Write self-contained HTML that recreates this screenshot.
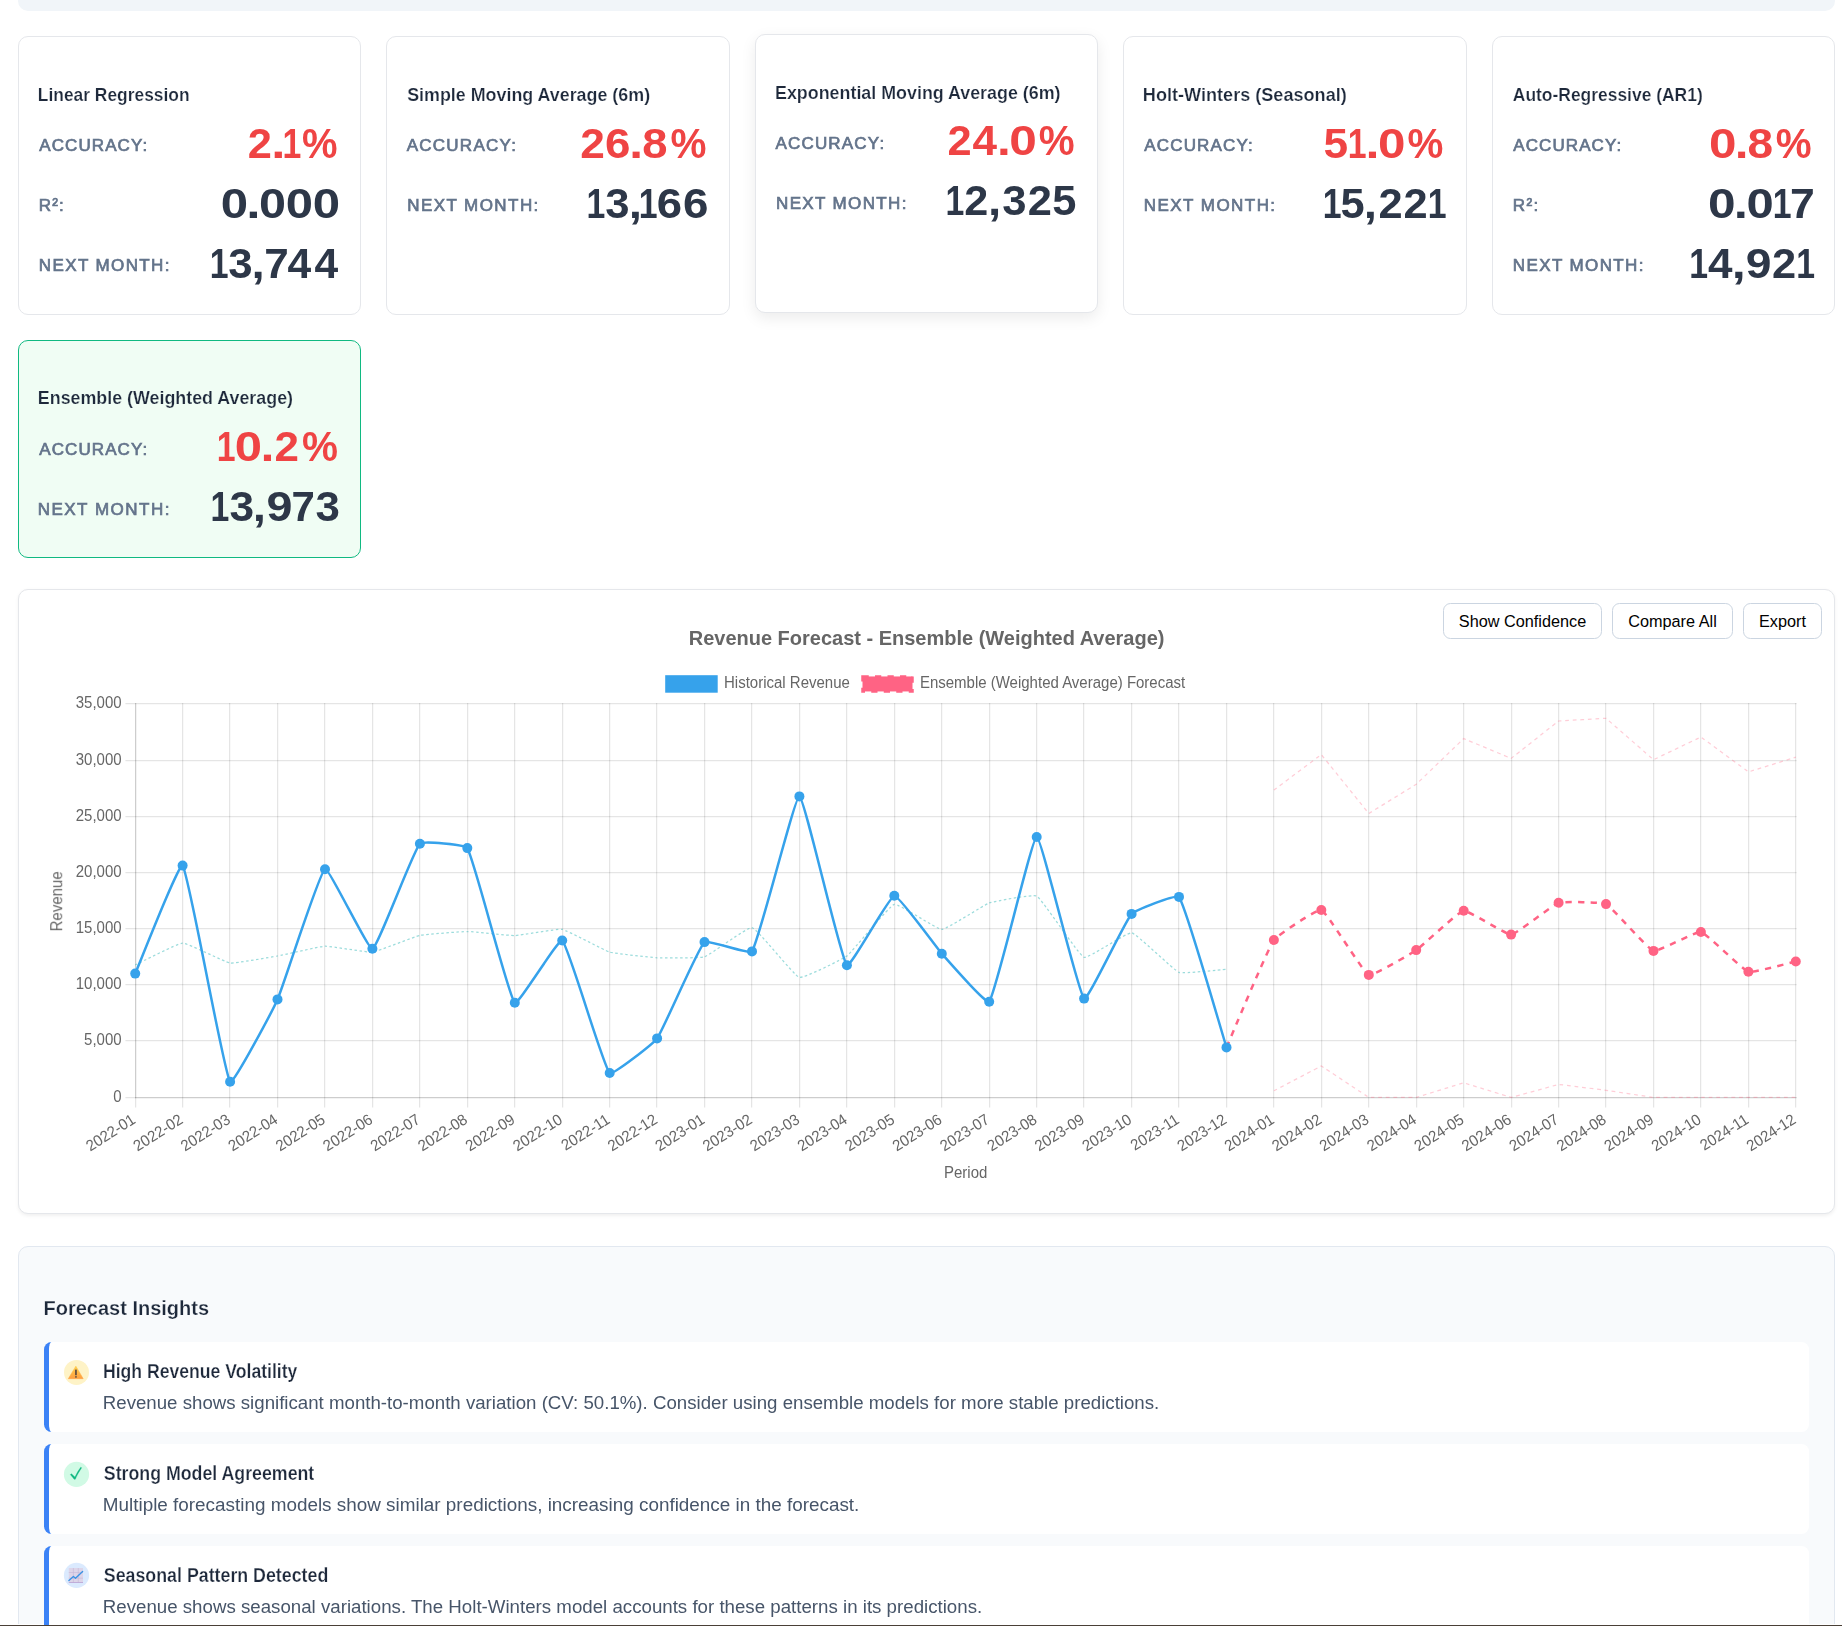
<!DOCTYPE html><html lang="en"><head><meta charset="utf-8"><title>Revenue Forecast</title>
<style>
*{box-sizing:border-box}
html,body{margin:0;padding:0;background:#fff;width:1842px;height:1626px;overflow:hidden}
.page{width:1842px;height:1626px;overflow:hidden;position:relative;background:#fff;font-family:"Liberation Sans",sans-serif}
.abs{position:absolute}
.strip{left:18.2px;top:-20px;width:1816.6px;height:31px;background:#f1f5f9;border-radius:10px}
.card{position:absolute;background:#fff;border:1.25px solid #e5e7eb;border-radius:10px}
.card.hover{box-shadow:0 5px 15px rgba(0,0,0,.08)}
.card.sel{background:#f0fdf4;border-color:#10b981}
.panel{position:absolute;left:18px;width:1817px;border:1.25px solid #e5e7eb;border-radius:10px;background:#fff}
.panel.chart{box-shadow:0 1.25px 3.75px rgba(0,0,0,.06)}
.panel.insights{background:#f8fafc;border-color:#e2e8f0}
.btn{position:absolute;top:603px;height:36px;border:1.25px solid #cbd5e1;border-radius:7.5px;background:#fff;font:16.25px/31px "Liberation Sans",sans-serif;color:#000;text-align:center;padding:0}
.ins{position:absolute;left:44.2px;width:1764.8px;height:89.6px;background:#fff;border-left:5px solid #3b82f6;border-radius:7.5px}
svg.ov{position:absolute;left:0;top:0;pointer-events:none;font-family:"Liberation Sans",sans-serif}
.edge1{left:0;top:1624px;width:1842px;height:1px;background:#fff}
.edge2{left:0;top:1625px;width:1842px;height:1px;background:#4a4037}
</style></head><body><main class="page">
<div class="abs strip"></div>
<div class="card " style="left:18px;top:36px;width:343px;height:279px"></div>
<div class="card " style="left:386px;top:36px;width:344px;height:279px"></div>
<div class="card hover" style="left:755px;top:34px;width:343px;height:279px"></div>
<div class="card " style="left:1123px;top:36px;width:344px;height:279px"></div>
<div class="card " style="left:1492px;top:36px;width:343px;height:279px"></div>
<div class="card sel" style="left:18px;top:340px;width:343px;height:218px"></div>
<div class="panel chart" style="top:589px;height:625px"></div>
<button class="btn" style="left:1443px;width:159px">Show Confidence</button>
<button class="btn" style="left:1612px;width:121px">Compare All</button>
<button class="btn" style="left:1743px;width:79px">Export</button>
<div class="panel insights" style="top:1246px;height:420px"></div>
<div class="abs edge1"></div>
<div class="ins" style="top:1342.0px"></div>
<div class="ins" style="top:1444.0px"></div>
<div class="ins" style="top:1546.0px"></div>
<svg class="ov" width="1842" height="1626" viewBox="0 0 1842 1626">
<g stroke="#000" stroke-opacity="0.1" stroke-width="1.25">
<line x1="135.625" y1="703" x2="135.625" y2="1107.5"/>
<line x1="182.625" y1="703" x2="182.625" y2="1107.5"/>
<line x1="229.625" y1="703" x2="229.625" y2="1107.5"/>
<line x1="277.625" y1="703" x2="277.625" y2="1107.5"/>
<line x1="324.625" y1="703" x2="324.625" y2="1107.5"/>
<line x1="372.625" y1="703" x2="372.625" y2="1107.5"/>
<line x1="419.625" y1="703" x2="419.625" y2="1107.5"/>
<line x1="467.625" y1="703" x2="467.625" y2="1107.5"/>
<line x1="514.625" y1="703" x2="514.625" y2="1107.5"/>
<line x1="562.625" y1="703" x2="562.625" y2="1107.5"/>
<line x1="609.625" y1="703" x2="609.625" y2="1107.5"/>
<line x1="656.625" y1="703" x2="656.625" y2="1107.5"/>
<line x1="704.625" y1="703" x2="704.625" y2="1107.5"/>
<line x1="751.625" y1="703" x2="751.625" y2="1107.5"/>
<line x1="799.625" y1="703" x2="799.625" y2="1107.5"/>
<line x1="846.625" y1="703" x2="846.625" y2="1107.5"/>
<line x1="894.625" y1="703" x2="894.625" y2="1107.5"/>
<line x1="941.625" y1="703" x2="941.625" y2="1107.5"/>
<line x1="989.625" y1="703" x2="989.625" y2="1107.5"/>
<line x1="1036.625" y1="703" x2="1036.625" y2="1107.5"/>
<line x1="1083.625" y1="703" x2="1083.625" y2="1107.5"/>
<line x1="1131.625" y1="703" x2="1131.625" y2="1107.5"/>
<line x1="1178.625" y1="703" x2="1178.625" y2="1107.5"/>
<line x1="1226.625" y1="703" x2="1226.625" y2="1107.5"/>
<line x1="1273.625" y1="703" x2="1273.625" y2="1107.5"/>
<line x1="1321.625" y1="703" x2="1321.625" y2="1107.5"/>
<line x1="1368.625" y1="703" x2="1368.625" y2="1107.5"/>
<line x1="1416.625" y1="703" x2="1416.625" y2="1107.5"/>
<line x1="1463.625" y1="703" x2="1463.625" y2="1107.5"/>
<line x1="1511.625" y1="703" x2="1511.625" y2="1107.5"/>
<line x1="1558.625" y1="703" x2="1558.625" y2="1107.5"/>
<line x1="1605.625" y1="703" x2="1605.625" y2="1107.5"/>
<line x1="1653.625" y1="703" x2="1653.625" y2="1107.5"/>
<line x1="1700.625" y1="703" x2="1700.625" y2="1107.5"/>
<line x1="1748.625" y1="703" x2="1748.625" y2="1107.5"/>
<line x1="1795.625" y1="703" x2="1795.625" y2="1107.5"/>
<line x1="125.4" y1="1097.625" x2="1796.6" y2="1097.625"/>
<line x1="125.4" y1="1040.625" x2="1796.6" y2="1040.625"/>
<line x1="125.4" y1="984.625" x2="1796.6" y2="984.625"/>
<line x1="125.4" y1="928.625" x2="1796.6" y2="928.625"/>
<line x1="125.4" y1="872.625" x2="1796.6" y2="872.625"/>
<line x1="125.4" y1="816.625" x2="1796.6" y2="816.625"/>
<line x1="125.4" y1="760.625" x2="1796.6" y2="760.625"/>
<line x1="125.4" y1="703.625" x2="1796.6" y2="703.625"/>
<line x1="135.625" y1="703" x2="135.625" y2="1098.2"/><line x1="135" y1="1097.625" x2="1796.6" y2="1097.625"/>
</g>
<g opacity="0.999">
<text transform="translate(121.60 1101.70) scale(0.9615 1)" x="0.00" y="0.00" font-size="15.60" font-weight="400" fill="#666" text-anchor="end">0</text>
<text transform="translate(121.60 1044.70) scale(0.9615 1)" x="0.00" y="0.00" font-size="15.60" font-weight="400" fill="#666" text-anchor="end">5,000</text>
<text transform="translate(121.60 988.70) scale(0.9615 1)" x="0.00" y="0.00" font-size="15.60" font-weight="400" fill="#666" text-anchor="end">10,000</text>
<text transform="translate(121.60 932.70) scale(0.9615 1)" x="0.00" y="0.00" font-size="15.60" font-weight="400" fill="#666" text-anchor="end">15,000</text>
<text transform="translate(121.60 876.70) scale(0.9615 1)" x="0.00" y="0.00" font-size="15.60" font-weight="400" fill="#666" text-anchor="end">20,000</text>
<text transform="translate(121.60 820.70) scale(0.9615 1)" x="0.00" y="0.00" font-size="15.60" font-weight="400" fill="#666" text-anchor="end">25,000</text>
<text transform="translate(121.60 764.70) scale(0.9615 1)" x="0.00" y="0.00" font-size="15.60" font-weight="400" fill="#666" text-anchor="end">30,000</text>
<text transform="translate(121.60 707.70) scale(0.9615 1)" x="0.00" y="0.00" font-size="15.60" font-weight="400" fill="#666" text-anchor="end">35,000</text>
<text transform="translate(128.80 1110.00) rotate(-32.5) scale(0.9615 1)" x="0.00" y="14.40" font-size="15.60" font-weight="400" fill="#666" text-anchor="end">2022-01</text>
<text transform="translate(176.25 1110.00) rotate(-32.5) scale(0.9615 1)" x="0.00" y="14.40" font-size="15.60" font-weight="400" fill="#666" text-anchor="end">2022-02</text>
<text transform="translate(223.69 1110.00) rotate(-32.5) scale(0.9615 1)" x="0.00" y="14.40" font-size="15.60" font-weight="400" fill="#666" text-anchor="end">2022-03</text>
<text transform="translate(271.14 1110.00) rotate(-32.5) scale(0.9615 1)" x="0.00" y="14.40" font-size="15.60" font-weight="400" fill="#666" text-anchor="end">2022-04</text>
<text transform="translate(318.58 1110.00) rotate(-32.5) scale(0.9615 1)" x="0.00" y="14.40" font-size="15.60" font-weight="400" fill="#666" text-anchor="end">2022-05</text>
<text transform="translate(366.03 1110.00) rotate(-32.5) scale(0.9615 1)" x="0.00" y="14.40" font-size="15.60" font-weight="400" fill="#666" text-anchor="end">2022-06</text>
<text transform="translate(413.47 1110.00) rotate(-32.5) scale(0.9615 1)" x="0.00" y="14.40" font-size="15.60" font-weight="400" fill="#666" text-anchor="end">2022-07</text>
<text transform="translate(460.92 1110.00) rotate(-32.5) scale(0.9615 1)" x="0.00" y="14.40" font-size="15.60" font-weight="400" fill="#666" text-anchor="end">2022-08</text>
<text transform="translate(508.37 1110.00) rotate(-32.5) scale(0.9615 1)" x="0.00" y="14.40" font-size="15.60" font-weight="400" fill="#666" text-anchor="end">2022-09</text>
<text transform="translate(555.81 1110.00) rotate(-32.5) scale(0.9615 1)" x="0.00" y="14.40" font-size="15.60" font-weight="400" fill="#666" text-anchor="end">2022-10</text>
<text transform="translate(603.26 1110.00) rotate(-32.5) scale(0.9615 1)" x="0.00" y="14.40" font-size="15.60" font-weight="400" fill="#666" text-anchor="end">2022-11</text>
<text transform="translate(650.70 1110.00) rotate(-32.5) scale(0.9615 1)" x="0.00" y="14.40" font-size="15.60" font-weight="400" fill="#666" text-anchor="end">2022-12</text>
<text transform="translate(698.15 1110.00) rotate(-32.5) scale(0.9615 1)" x="0.00" y="14.40" font-size="15.60" font-weight="400" fill="#666" text-anchor="end">2023-01</text>
<text transform="translate(745.59 1110.00) rotate(-32.5) scale(0.9615 1)" x="0.00" y="14.40" font-size="15.60" font-weight="400" fill="#666" text-anchor="end">2023-02</text>
<text transform="translate(793.04 1110.00) rotate(-32.5) scale(0.9615 1)" x="0.00" y="14.40" font-size="15.60" font-weight="400" fill="#666" text-anchor="end">2023-03</text>
<text transform="translate(840.49 1110.00) rotate(-32.5) scale(0.9615 1)" x="0.00" y="14.40" font-size="15.60" font-weight="400" fill="#666" text-anchor="end">2023-04</text>
<text transform="translate(887.93 1110.00) rotate(-32.5) scale(0.9615 1)" x="0.00" y="14.40" font-size="15.60" font-weight="400" fill="#666" text-anchor="end">2023-05</text>
<text transform="translate(935.38 1110.00) rotate(-32.5) scale(0.9615 1)" x="0.00" y="14.40" font-size="15.60" font-weight="400" fill="#666" text-anchor="end">2023-06</text>
<text transform="translate(982.82 1110.00) rotate(-32.5) scale(0.9615 1)" x="0.00" y="14.40" font-size="15.60" font-weight="400" fill="#666" text-anchor="end">2023-07</text>
<text transform="translate(1030.27 1110.00) rotate(-32.5) scale(0.9615 1)" x="0.00" y="14.40" font-size="15.60" font-weight="400" fill="#666" text-anchor="end">2023-08</text>
<text transform="translate(1077.71 1110.00) rotate(-32.5) scale(0.9615 1)" x="0.00" y="14.40" font-size="15.60" font-weight="400" fill="#666" text-anchor="end">2023-09</text>
<text transform="translate(1125.16 1110.00) rotate(-32.5) scale(0.9615 1)" x="0.00" y="14.40" font-size="15.60" font-weight="400" fill="#666" text-anchor="end">2023-10</text>
<text transform="translate(1172.61 1110.00) rotate(-32.5) scale(0.9615 1)" x="0.00" y="14.40" font-size="15.60" font-weight="400" fill="#666" text-anchor="end">2023-11</text>
<text transform="translate(1220.05 1110.00) rotate(-32.5) scale(0.9615 1)" x="0.00" y="14.40" font-size="15.60" font-weight="400" fill="#666" text-anchor="end">2023-12</text>
<text transform="translate(1267.50 1110.00) rotate(-32.5) scale(0.9615 1)" x="0.00" y="14.40" font-size="15.60" font-weight="400" fill="#666" text-anchor="end">2024-01</text>
<text transform="translate(1314.94 1110.00) rotate(-32.5) scale(0.9615 1)" x="0.00" y="14.40" font-size="15.60" font-weight="400" fill="#666" text-anchor="end">2024-02</text>
<text transform="translate(1362.39 1110.00) rotate(-32.5) scale(0.9615 1)" x="0.00" y="14.40" font-size="15.60" font-weight="400" fill="#666" text-anchor="end">2024-03</text>
<text transform="translate(1409.83 1110.00) rotate(-32.5) scale(0.9615 1)" x="0.00" y="14.40" font-size="15.60" font-weight="400" fill="#666" text-anchor="end">2024-04</text>
<text transform="translate(1457.28 1110.00) rotate(-32.5) scale(0.9615 1)" x="0.00" y="14.40" font-size="15.60" font-weight="400" fill="#666" text-anchor="end">2024-05</text>
<text transform="translate(1504.73 1110.00) rotate(-32.5) scale(0.9615 1)" x="0.00" y="14.40" font-size="15.60" font-weight="400" fill="#666" text-anchor="end">2024-06</text>
<text transform="translate(1552.17 1110.00) rotate(-32.5) scale(0.9615 1)" x="0.00" y="14.40" font-size="15.60" font-weight="400" fill="#666" text-anchor="end">2024-07</text>
<text transform="translate(1599.62 1110.00) rotate(-32.5) scale(0.9615 1)" x="0.00" y="14.40" font-size="15.60" font-weight="400" fill="#666" text-anchor="end">2024-08</text>
<text transform="translate(1647.06 1110.00) rotate(-32.5) scale(0.9615 1)" x="0.00" y="14.40" font-size="15.60" font-weight="400" fill="#666" text-anchor="end">2024-09</text>
<text transform="translate(1694.51 1110.00) rotate(-32.5) scale(0.9615 1)" x="0.00" y="14.40" font-size="15.60" font-weight="400" fill="#666" text-anchor="end">2024-10</text>
<text transform="translate(1741.95 1110.00) rotate(-32.5) scale(0.9615 1)" x="0.00" y="14.40" font-size="15.60" font-weight="400" fill="#666" text-anchor="end">2024-11</text>
<text transform="translate(1789.40 1110.00) rotate(-32.5) scale(0.9615 1)" x="0.00" y="14.40" font-size="15.60" font-weight="400" fill="#666" text-anchor="end">2024-12</text>
<text transform="translate(965.70 1177.60) scale(0.9615 1)" x="0.00" y="0.00" font-size="15.60" font-weight="400" fill="#666" text-anchor="middle">Period</text>
<text transform="translate(62.20 901.40) rotate(-90) scale(0.9615 1)" x="0.00" y="0.00" font-size="15.60" font-weight="400" fill="#666" text-anchor="middle">Revenue</text>
<text transform="translate(926.60 644.60) scale(0.9615 1)" x="0.00" y="0.00" font-size="20.80" font-weight="700" fill="#666" text-anchor="middle">Revenue Forecast - Ensemble (Weighted Average)</text>
<rect x="665.2" y="675.2" width="52.5" height="17.5" fill="#36a2eb"/>
<text transform="translate(724.00 688.30) scale(0.9615 1)" x="0.00" y="0.00" font-size="15.60" font-weight="400" fill="#666" text-anchor="start">Historical Revenue</text>
<rect x="862.5" y="676.45" width="50" height="15" fill="#ff6384" stroke="#ff6384" stroke-width="2.5" stroke-dasharray="6.25 6.25"/>
<text transform="translate(919.90 688.30) scale(0.9615 1)" x="0.00" y="0.00" font-size="15.60" font-weight="400" fill="#666" text-anchor="start">Ensemble (Weighted Average) Forecast</text>
</g>
<path d="M1273.9 790.0C1273.9 790.0 1321.3 754.6 1321.3 754.6C1321.3 754.6 1368.8 813.5 1368.8 813.5C1368.8 813.5 1416.2 784.3 1416.2 784.3C1416.2 784.3 1463.7 738.6 1463.7 738.6C1463.7 738.6 1511.1 758.4 1511.1 758.4C1511.1 758.4 1558.6 721.0 1558.6 721.0C1558.6 721.0 1606.0 718.3 1606.0 718.3C1606.0 718.3 1653.5 759.7 1653.5 759.7C1653.5 759.7 1700.9 737.0 1700.9 737.0C1700.9 737.0 1748.4 771.9 1748.4 771.9C1748.4 771.9 1795.8 757.2 1795.8 757.2" fill="none" stroke="#ff6384" stroke-opacity="0.32" stroke-width="1.25" stroke-dasharray="3.75 3.75"/>
<path d="M1273.9 1090.8C1273.9 1090.8 1321.3 1066.0 1321.3 1066.0C1321.3 1066.0 1368.8 1097.4 1368.8 1097.4C1368.8 1097.4 1416.2 1097.4 1416.2 1097.4C1416.2 1097.4 1463.7 1082.8 1463.7 1082.8C1463.7 1082.8 1511.1 1097.4 1511.1 1097.4C1511.1 1097.4 1558.6 1084.4 1558.6 1084.4C1558.6 1084.4 1606.0 1090.3 1606.0 1090.3C1606.0 1090.3 1653.5 1097.4 1653.5 1097.4C1653.5 1097.4 1700.9 1097.4 1700.9 1097.4C1700.9 1097.4 1748.4 1097.4 1748.4 1097.4C1748.4 1097.4 1795.8 1097.4 1795.8 1097.4" fill="none" stroke="#ff6384" stroke-opacity="0.32" stroke-width="1.25" stroke-dasharray="3.75 3.75"/>
<path d="M135.2 965.0C139.9 962.8 177.9 943.2 182.6 943.1C187.4 943.0 225.2 962.3 230.1 963.0C234.7 963.6 272.8 956.8 277.5 956.0C282.3 955.2 320.2 946.4 325.0 946.2C329.7 946.0 367.8 952.6 372.4 952.1C377.3 951.5 415.0 936.5 419.9 935.4C424.5 934.4 462.6 931.5 467.3 931.5C472.1 931.5 510.0 935.7 514.8 935.6C519.5 935.5 557.7 928.6 562.2 929.4C567.2 930.3 604.7 950.6 609.7 952.1C614.2 953.5 652.3 957.6 657.1 957.8C661.8 958.0 700.2 958.2 704.5 956.8C709.7 955.2 747.7 926.7 752.0 927.6C757.2 928.7 794.0 975.8 799.4 977.4C803.5 978.6 842.8 959.1 846.9 956.0C852.3 951.8 889.0 905.9 894.3 904.4C898.4 903.2 937.1 929.5 941.8 929.4C946.6 929.3 984.2 904.8 989.2 903.0C993.7 901.4 1033.0 894.0 1036.7 896.1C1042.5 899.5 1078.5 955.1 1084.1 957.3C1088.0 958.8 1127.2 932.1 1131.6 932.8C1136.6 933.6 1173.6 970.2 1179.0 972.3C1183.1 973.9 1221.7 969.7 1226.5 969.4" fill="none" stroke="#4bc0c0" stroke-opacity="0.55" stroke-width="1.25" stroke-dasharray="2.5 2.5"/>
<path d="M1226.5 1047.4C1231.2 1036.7 1267.5 949.3 1273.9 940.0C1277.0 935.6 1317.4 908.6 1321.3 910.0C1326.9 912.1 1363.1 972.5 1368.8 974.9C1372.6 976.5 1411.8 953.1 1416.2 950.1C1421.3 946.7 1458.6 911.6 1463.7 910.8C1468.1 910.1 1506.6 935.0 1511.1 934.6C1516.0 934.2 1553.4 904.5 1558.6 902.8C1562.9 901.4 1602.1 902.1 1606.0 904.1C1611.6 906.9 1648.1 949.3 1653.5 950.9C1657.6 952.1 1696.6 931.1 1700.9 932.0C1706.1 933.1 1743.0 970.1 1748.4 971.8C1752.5 973.1 1791.1 962.5 1795.8 961.5" fill="none" stroke="#ff6384" stroke-width="2.5" stroke-dasharray="6.25 6.25"/>
<path d="M135.2 973.6C139.9 962.8 179.3 861.8 182.6 865.6C188.8 872.7 223.5 1072.4 230.1 1081.8C232.9 1085.8 273.7 1008.1 277.5 999.4C283.2 986.8 319.3 872.2 325.0 869.2C328.8 867.2 368.2 949.9 372.4 948.8C377.7 947.4 413.2 850.8 419.9 843.7C422.6 840.8 465.2 844.5 467.3 848.1C474.7 860.4 508.4 996.6 514.8 1002.8C517.9 1005.8 558.8 938.0 562.2 940.5C568.3 945.0 603.0 1066.1 609.7 1073.0C612.5 1075.9 653.7 1043.0 657.1 1038.4C663.2 1029.9 698.0 948.1 704.5 942.1C707.5 939.4 749.8 954.7 752.0 951.4C759.3 940.2 794.9 795.7 799.4 796.4C804.4 797.1 840.5 958.6 846.9 965.3C850.0 968.5 889.3 896.4 894.3 895.8C898.8 895.3 936.8 948.1 941.8 953.7C946.3 958.7 986.5 1005.0 989.2 1001.7C996.0 993.3 1031.9 837.2 1036.7 837.0C1041.4 836.8 1078.1 993.7 1084.1 998.6C1087.6 1001.4 1125.3 920.6 1131.6 913.9C1134.8 910.4 1176.7 893.7 1179.0 896.9C1186.2 907.0 1221.7 1032.4 1226.5 1047.4" fill="none" stroke="#36a2eb" stroke-width="2.5" stroke-linejoin="round"/>
<g fill="#ff6384"><circle cx="1273.9" cy="940.0" r="5"/><circle cx="1321.3" cy="910.0" r="5"/><circle cx="1368.8" cy="974.9" r="5"/><circle cx="1416.2" cy="950.1" r="5"/><circle cx="1463.7" cy="910.8" r="5"/><circle cx="1511.1" cy="934.6" r="5"/><circle cx="1558.6" cy="902.8" r="5"/><circle cx="1606.0" cy="904.1" r="5"/><circle cx="1653.5" cy="950.9" r="5"/><circle cx="1700.9" cy="932.0" r="5"/><circle cx="1748.4" cy="971.8" r="5"/><circle cx="1795.8" cy="961.5" r="5"/></g>
<g fill="#36a2eb"><circle cx="135.2" cy="973.6" r="5"/><circle cx="182.6" cy="865.6" r="5"/><circle cx="230.1" cy="1081.8" r="5"/><circle cx="277.5" cy="999.4" r="5"/><circle cx="325.0" cy="869.2" r="5"/><circle cx="372.4" cy="948.8" r="5"/><circle cx="419.9" cy="843.7" r="5"/><circle cx="467.3" cy="848.1" r="5"/><circle cx="514.8" cy="1002.8" r="5"/><circle cx="562.2" cy="940.5" r="5"/><circle cx="609.7" cy="1073.0" r="5"/><circle cx="657.1" cy="1038.4" r="5"/><circle cx="704.5" cy="942.1" r="5"/><circle cx="752.0" cy="951.4" r="5"/><circle cx="799.4" cy="796.4" r="5"/><circle cx="846.9" cy="965.3" r="5"/><circle cx="894.3" cy="895.8" r="5"/><circle cx="941.8" cy="953.7" r="5"/><circle cx="989.2" cy="1001.7" r="5"/><circle cx="1036.7" cy="837.0" r="5"/><circle cx="1084.1" cy="998.6" r="5"/><circle cx="1131.6" cy="913.9" r="5"/><circle cx="1179.0" cy="896.9" r="5"/><circle cx="1226.5" cy="1047.4" r="5"/></g>
<defs><linearGradient id="wg" x1="0" y1="0" x2="0" y2="1"><stop offset="0" stop-color="#ffd04d"/><stop offset="1" stop-color="#ff9e40"/></linearGradient></defs>
<circle cx="76.5" cy="1372.4" r="12.5" fill="#fef3c7"/>
<path d="M75.85 1366.1 L83.2 1378.7 L68.3 1378.7 Z" fill="url(#wg)" stroke="url(#wg)" stroke-width="0.5" stroke-linejoin="round"/>
<rect x="75.1" y="1369.6" width="1.7" height="5.6" rx="0.5" fill="#5b4a3f"/><rect x="75.1" y="1376.1" width="1.7" height="1.6" rx="0.4" fill="#6b5540"/>
<circle cx="76.5" cy="1474.4" r="12.6" fill="#d1fae5"/>
<path d="M70.3 1474.6 L71.45 1473.75 L74.95 1477.05 C76.5 1473.4 78.7 1470 80.7 1467.2 L81.7 1467.75 C79.3 1471.2 77.15 1474.9 75.35 1479.2 L74.2 1479.35 Z" fill="#10b981" stroke="#10b981" stroke-width="0.3" stroke-linejoin="round"/>
<circle cx="76.5" cy="1575.4" r="12.6" fill="#dbeafe"/>
<rect x="68.8" y="1568.0" width="14.2" height="14.4" fill="#ddd5e9"/>
<g stroke="#c3b5d6" stroke-width="0.55"><line x1="73.4" y1="1568" x2="73.4" y2="1582.4"/><line x1="78.3" y1="1568" x2="78.3" y2="1582.4"/><line x1="68.8" y1="1572.5" x2="83" y2="1572.5"/><line x1="68.8" y1="1578.2" x2="83" y2="1578.2"/></g>
<rect x="68.8" y="1582.0" width="14.2" height="0.8" fill="#b9a0d2"/>
<path d="M68.9 1580.6 L73.4 1576.5 L75.5 1578.3 L82.6 1571.5" fill="none" stroke="#3a92e4" stroke-width="1.35" stroke-linecap="round" stroke-linejoin="round"/>
<text id="c1t" x="37.87" y="101.10" font-size="18.49" font-weight="700" fill="#1e293b" textLength="151.71" lengthAdjust="spacingAndGlyphs" stroke="#fff" stroke-width="0.22">Linear Regression</text>
<text id="c1l0" x="39.30" y="151.00" font-size="17.01" font-weight="400" fill="#64748b" textLength="107.82" lengthAdjust="spacing" stroke="#64748b" stroke-width="0.7">ACCURACY:</text>
<text id="c1v0" y="157.90" font-size="42.27" font-weight="700" fill="#ef4444"><tspan x="247.80" textLength="24.14" lengthAdjust="spacingAndGlyphs">2</tspan><tspan x="271.24" textLength="14.18" lengthAdjust="spacingAndGlyphs">.</tspan><tspan x="282.40" textLength="18.81" lengthAdjust="spacingAndGlyphs">1</tspan><tspan x="302.00" textLength="35.55" lengthAdjust="spacingAndGlyphs">%</tspan></text>
<text id="c1l1" x="38.79" y="211.00" font-size="17.01" font-weight="400" fill="#64748b" textLength="25.04" lengthAdjust="spacing" stroke="#64748b" stroke-width="0.7">R²:</text>
<text id="c1v1" y="217.90" font-size="42.27" font-weight="700" fill="#2d3748"><tspan x="220.65" textLength="27.36" lengthAdjust="spacingAndGlyphs">0</tspan><tspan x="246.31" textLength="14.33" lengthAdjust="spacingAndGlyphs">.</tspan><tspan x="258.98" textLength="27.01" lengthAdjust="spacingAndGlyphs">0</tspan><tspan x="285.76" textLength="27.25" lengthAdjust="spacingAndGlyphs">0</tspan><tspan x="312.65" textLength="27.36" lengthAdjust="spacingAndGlyphs">0</tspan></text>
<text id="c1l2" x="38.79" y="271.00" font-size="17.01" font-weight="400" fill="#64748b" textLength="130.71" lengthAdjust="spacing" stroke="#64748b" stroke-width="0.7">NEXT MONTH:</text>
<text id="c1v2" y="277.90" font-size="42.27" font-weight="700" fill="#2d3748"><tspan x="209.65" textLength="18.81" lengthAdjust="spacingAndGlyphs">1</tspan><tspan x="228.19" textLength="24.39" lengthAdjust="spacingAndGlyphs">3</tspan><tspan x="251.57" textLength="13.21" lengthAdjust="spacingAndGlyphs">,</tspan><tspan x="264.30" textLength="24.53" lengthAdjust="spacingAndGlyphs">7</tspan><tspan x="287.56" textLength="23.67" lengthAdjust="spacingAndGlyphs">4</tspan><tspan x="314.56" textLength="23.67" lengthAdjust="spacingAndGlyphs">4</tspan></text>
<text id="c2t" x="407.20" y="101.10" font-size="18.49" font-weight="700" fill="#1e293b" textLength="242.90" lengthAdjust="spacingAndGlyphs" stroke="#fff" stroke-width="0.22">Simple Moving Average (6m)</text>
<text id="c2l0" x="406.63" y="151.00" font-size="17.01" font-weight="400" fill="#64748b" textLength="109.31" lengthAdjust="spacing" stroke="#64748b" stroke-width="0.7">ACCURACY:</text>
<text id="c2v0" y="157.90" font-size="42.27" font-weight="700" fill="#ef4444"><tspan x="580.17" textLength="24.61" lengthAdjust="spacingAndGlyphs">2</tspan><tspan x="605.13" textLength="25.43" lengthAdjust="spacingAndGlyphs">6</tspan><tspan x="629.33" textLength="13.78" lengthAdjust="spacingAndGlyphs">.</tspan><tspan x="642.26" textLength="25.24" lengthAdjust="spacingAndGlyphs">8</tspan><tspan x="670.39" textLength="35.97" lengthAdjust="spacingAndGlyphs">%</tspan></text>
<text id="c2l1" x="407.21" y="211.00" font-size="17.01" font-weight="400" fill="#64748b" textLength="131.11" lengthAdjust="spacing" stroke="#64748b" stroke-width="0.7">NEXT MONTH:</text>
<text id="c2v1" y="217.90" font-size="42.27" font-weight="700" fill="#2d3748"><tspan x="586.60" textLength="18.81" lengthAdjust="spacingAndGlyphs">1</tspan><tspan x="605.20" textLength="24.28" lengthAdjust="spacingAndGlyphs">3</tspan><tspan x="628.67" textLength="13.21" lengthAdjust="spacingAndGlyphs">,</tspan><tspan x="638.75" textLength="18.81" lengthAdjust="spacingAndGlyphs">1</tspan><tspan x="656.83" textLength="25.31" lengthAdjust="spacingAndGlyphs">6</tspan><tspan x="683.03" textLength="25.43" lengthAdjust="spacingAndGlyphs">6</tspan></text>
<text id="c3t" x="775.03" y="98.60" font-size="18.49" font-weight="700" fill="#1e293b" textLength="285.52" lengthAdjust="spacingAndGlyphs" stroke="#fff" stroke-width="0.22">Exponential Moving Average (6m)</text>
<text id="c3l0" x="775.42" y="148.50" font-size="17.01" font-weight="400" fill="#64748b" textLength="108.71" lengthAdjust="spacing" stroke="#64748b" stroke-width="0.7">ACCURACY:</text>
<text id="c3v0" y="155.40" font-size="42.27" font-weight="700" fill="#ef4444"><tspan x="947.50" textLength="24.14" lengthAdjust="spacingAndGlyphs">2</tspan><tspan x="972.63" textLength="24.50" lengthAdjust="spacingAndGlyphs">4</tspan><tspan x="997.13" textLength="13.78" lengthAdjust="spacingAndGlyphs">.</tspan><tspan x="1009.34" textLength="27.60" lengthAdjust="spacingAndGlyphs">0</tspan><tspan x="1038.80" textLength="35.87" lengthAdjust="spacingAndGlyphs">%</tspan></text>
<text id="c3l1" x="776.00" y="208.50" font-size="17.01" font-weight="400" fill="#64748b" textLength="130.41" lengthAdjust="spacing" stroke="#64748b" stroke-width="0.7">NEXT MONTH:</text>
<text id="c3v1" y="215.40" font-size="42.27" font-weight="700" fill="#2d3748"><tspan x="945.60" textLength="18.81" lengthAdjust="spacingAndGlyphs">1</tspan><tspan x="964.20" textLength="24.03" lengthAdjust="spacingAndGlyphs">2</tspan><tspan x="987.97" textLength="13.21" lengthAdjust="spacingAndGlyphs">,</tspan><tspan x="1002.30" textLength="24.28" lengthAdjust="spacingAndGlyphs">3</tspan><tspan x="1027.70" textLength="24.14" lengthAdjust="spacingAndGlyphs">2</tspan><tspan x="1052.16" textLength="24.14" lengthAdjust="spacingAndGlyphs">5</tspan></text>
<text id="c4t" x="1142.82" y="101.10" font-size="18.49" font-weight="700" fill="#1e293b" textLength="204.00" lengthAdjust="spacingAndGlyphs" stroke="#fff" stroke-width="0.22">Holt-Winters (Seasonal)</text>
<text id="c4l0" x="1144.30" y="151.00" font-size="17.01" font-weight="400" fill="#64748b" textLength="108.41" lengthAdjust="spacing" stroke="#64748b" stroke-width="0.7">ACCURACY:</text>
<text id="c4v0" y="157.90" font-size="42.27" font-weight="700" fill="#ef4444"><tspan x="1323.44" textLength="24.59" lengthAdjust="spacingAndGlyphs">5</tspan><tspan x="1347.85" textLength="18.81" lengthAdjust="spacingAndGlyphs">1</tspan><tspan x="1365.59" textLength="13.98" lengthAdjust="spacingAndGlyphs">.</tspan><tspan x="1377.95" textLength="27.48" lengthAdjust="spacingAndGlyphs">0</tspan><tspan x="1407.40" textLength="35.87" lengthAdjust="spacingAndGlyphs">%</tspan></text>
<text id="c4l1" x="1143.79" y="211.00" font-size="17.01" font-weight="400" fill="#64748b" textLength="131.31" lengthAdjust="spacing" stroke="#64748b" stroke-width="0.7">NEXT MONTH:</text>
<text id="c4v1" y="217.90" font-size="42.27" font-weight="700" fill="#2d3748"><tspan x="1322.65" textLength="18.81" lengthAdjust="spacingAndGlyphs">1</tspan><tspan x="1340.56" textLength="24.14" lengthAdjust="spacingAndGlyphs">5</tspan><tspan x="1363.77" textLength="13.21" lengthAdjust="spacingAndGlyphs">,</tspan><tspan x="1378.40" textLength="24.14" lengthAdjust="spacingAndGlyphs">2</tspan><tspan x="1403.60" textLength="24.14" lengthAdjust="spacingAndGlyphs">2</tspan><tspan x="1427.85" textLength="18.81" lengthAdjust="spacingAndGlyphs">1</tspan></text>
<text id="c5t" x="1512.81" y="101.10" font-size="18.49" font-weight="700" fill="#1e293b" textLength="189.91" lengthAdjust="spacingAndGlyphs" stroke="#fff" stroke-width="0.22">Auto-Regressive (AR1)</text>
<text id="c5l0" x="1513.30" y="151.00" font-size="17.01" font-weight="400" fill="#64748b" textLength="107.82" lengthAdjust="spacing" stroke="#64748b" stroke-width="0.7">ACCURACY:</text>
<text id="c5v0" y="157.90" font-size="42.27" font-weight="700" fill="#ef4444"><tspan x="1708.95" textLength="27.48" lengthAdjust="spacingAndGlyphs">0</tspan><tspan x="1734.73" textLength="13.78" lengthAdjust="spacingAndGlyphs">.</tspan><tspan x="1747.54" textLength="25.57" lengthAdjust="spacingAndGlyphs">8</tspan><tspan x="1775.80" textLength="35.87" lengthAdjust="spacingAndGlyphs">%</tspan></text>
<text id="c5l1" x="1512.79" y="211.00" font-size="17.01" font-weight="400" fill="#64748b" textLength="25.56" lengthAdjust="spacing" stroke="#64748b" stroke-width="0.7">R²:</text>
<text id="c5v1" y="217.90" font-size="42.27" font-weight="700" fill="#2d3748"><tspan x="1708.14" textLength="27.60" lengthAdjust="spacingAndGlyphs">0</tspan><tspan x="1733.84" textLength="14.18" lengthAdjust="spacingAndGlyphs">.</tspan><tspan x="1746.46" textLength="27.25" lengthAdjust="spacingAndGlyphs">0</tspan><tspan x="1772.65" textLength="18.81" lengthAdjust="spacingAndGlyphs">1</tspan><tspan x="1790.09" textLength="24.77" lengthAdjust="spacingAndGlyphs">7</tspan></text>
<text id="c5l2" x="1512.79" y="271.00" font-size="17.01" font-weight="400" fill="#64748b" textLength="130.71" lengthAdjust="spacing" stroke="#64748b" stroke-width="0.7">NEXT MONTH:</text>
<text id="c5v2" y="277.90" font-size="42.27" font-weight="700" fill="#2d3748"><tspan x="1689.15" textLength="18.81" lengthAdjust="spacingAndGlyphs">1</tspan><tspan x="1707.93" textLength="24.50" lengthAdjust="spacingAndGlyphs">4</tspan><tspan x="1731.78" textLength="13.98" lengthAdjust="spacingAndGlyphs">,</tspan><tspan x="1745.80" textLength="25.72" lengthAdjust="spacingAndGlyphs">9</tspan><tspan x="1772.10" textLength="24.14" lengthAdjust="spacingAndGlyphs">2</tspan><tspan x="1796.15" textLength="18.81" lengthAdjust="spacingAndGlyphs">1</tspan></text>
<text id="c6t" x="37.84" y="404.30" font-size="18.49" font-weight="700" fill="#1e293b" textLength="255.18" lengthAdjust="spacingAndGlyphs" stroke="#f0fdf4" stroke-width="0.22">Ensemble (Weighted Average)</text>
<text id="c6l0" x="39.30" y="455.20" font-size="17.01" font-weight="400" fill="#64748b" textLength="107.82" lengthAdjust="spacing" stroke="#64748b" stroke-width="0.7">ACCURACY:</text>
<text id="c6v0" y="461.30" font-size="42.27" font-weight="700" fill="#ef4444"><tspan x="216.75" textLength="18.81" lengthAdjust="spacingAndGlyphs">1</tspan><tspan x="234.86" textLength="27.25" lengthAdjust="spacingAndGlyphs">0</tspan><tspan x="260.49" textLength="13.98" lengthAdjust="spacingAndGlyphs">.</tspan><tspan x="274.57" textLength="24.49" lengthAdjust="spacingAndGlyphs">2</tspan><tspan x="301.99" textLength="35.97" lengthAdjust="spacingAndGlyphs">%</tspan></text>
<text id="c6l1" x="37.66" y="514.80" font-size="17.01" font-weight="400" fill="#64748b" textLength="131.85" lengthAdjust="spacing" stroke="#64748b" stroke-width="0.7">NEXT MONTH:</text>
<text id="c6v1" y="521.10" font-size="42.27" font-weight="700" fill="#2d3748"><tspan x="210.45" textLength="18.81" lengthAdjust="spacingAndGlyphs">1</tspan><tspan x="229.48" textLength="24.61" lengthAdjust="spacingAndGlyphs">3</tspan><tspan x="252.87" textLength="13.21" lengthAdjust="spacingAndGlyphs">,</tspan><tspan x="266.48" textLength="25.95" lengthAdjust="spacingAndGlyphs">9</tspan><tspan x="291.40" textLength="23.35" lengthAdjust="spacingAndGlyphs">7</tspan><tspan x="315.59" textLength="24.39" lengthAdjust="spacingAndGlyphs">3</tspan></text>
<text id="ih" x="43.44" y="1314.90" font-size="21.13" font-weight="700" fill="#1e293b" textLength="165.67" lengthAdjust="spacingAndGlyphs" stroke="#f8fafc" stroke-width="0.25">Forecast Insights</text>
<text id="i0t" x="102.92" y="1377.80" font-size="19.81" font-weight="700" fill="#1e293b" textLength="194.49" lengthAdjust="spacingAndGlyphs" stroke="#fff" stroke-width="0.25">High Revenue Volatility</text>
<text id="i0d" x="102.79" y="1409.10" font-size="18.49" font-weight="400" fill="#475569" textLength="1056.47" lengthAdjust="spacingAndGlyphs">Revenue shows significant month-to-month variation (CV: 50.1%). Consider using ensemble models for more stable predictions.</text>
<text id="i1t" x="103.81" y="1479.80" font-size="19.81" font-weight="700" fill="#1e293b" textLength="210.49" lengthAdjust="spacingAndGlyphs" stroke="#fff" stroke-width="0.25">Strong Model Agreement</text>
<text id="i1d" x="102.78" y="1511.10" font-size="18.49" font-weight="400" fill="#475569" textLength="756.60" lengthAdjust="spacingAndGlyphs">Multiple forecasting models show similar predictions, increasing confidence in the forecast.</text>
<text id="i2t" x="103.81" y="1581.80" font-size="19.81" font-weight="700" fill="#1e293b" textLength="224.49" lengthAdjust="spacingAndGlyphs" stroke="#fff" stroke-width="0.25">Seasonal Pattern Detected</text>
<text id="i2d" x="102.79" y="1613.10" font-size="18.49" font-weight="400" fill="#475569" textLength="879.41" lengthAdjust="spacingAndGlyphs">Revenue shows seasonal variations. The Holt-Winters model accounts for these patterns in its predictions.</text>
</svg>
<div class="abs edge2"></div>
</main></body></html>
